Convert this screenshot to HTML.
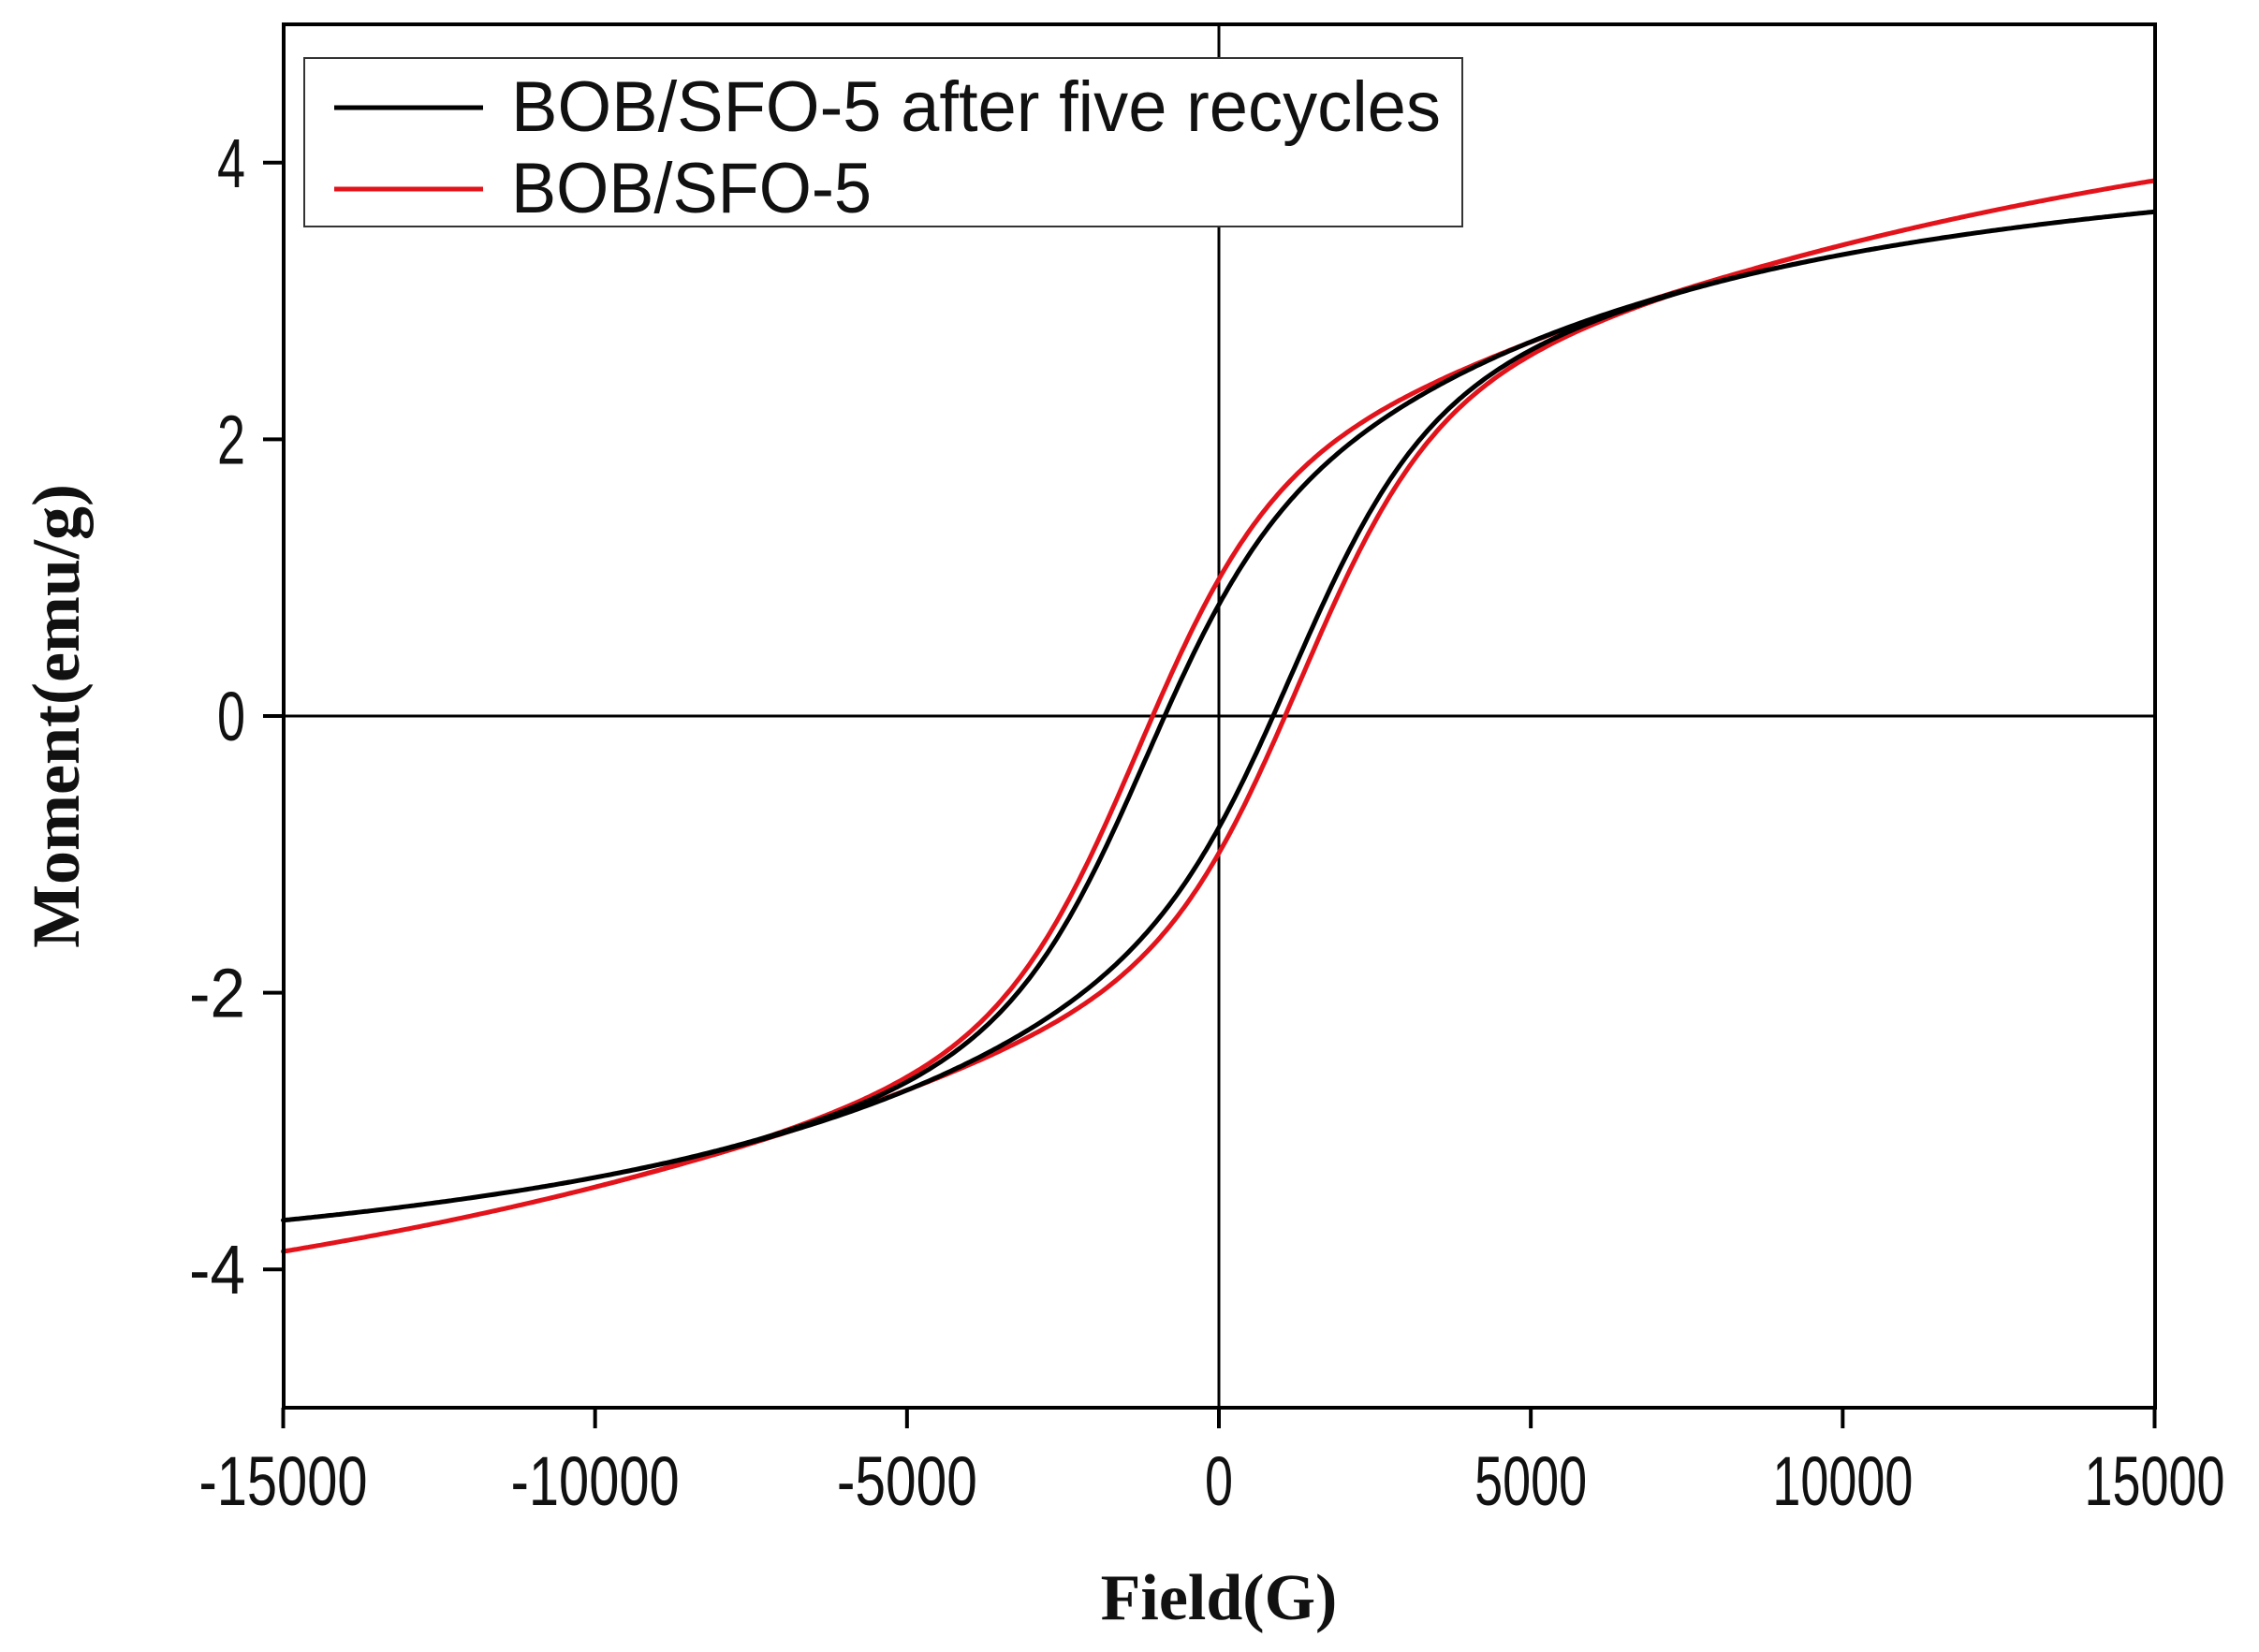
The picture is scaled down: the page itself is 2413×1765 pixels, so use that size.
<!DOCTYPE html>
<html><head><meta charset="utf-8"><style>
html,body{margin:0;padding:0;background:#fff;}
svg{display:block;}
text{font-family:"Liberation Sans",Arial,sans-serif;fill:#111;}
.t{font-family:"Liberation Serif","Times New Roman",serif;font-weight:bold;}
</style></head><body>
<svg id="s" width="2413" height="1765" viewBox="0 0 2413 1765" xmlns="http://www.w3.org/2000/svg">
<rect width="2413" height="1765" fill="#fff"/>
<line x1="1302" y1="26" x2="1302" y2="1504" stroke="#000" stroke-width="3"/>
<line x1="303" y1="765" x2="2302" y2="765" stroke="#000" stroke-width="3"/>
<g id="curves"></g>
<rect x="303" y="26" width="1999" height="1478" fill="none" stroke="#000" stroke-width="4"/>
<g stroke="#000" stroke-width="4" id="ticks"></g>
<g font-size="74" id="labels"></g>
<rect x="325" y="62" width="1237" height="180" fill="#fff" stroke="#333" stroke-width="2"/>
<line x1="357" y1="115" x2="516" y2="115" stroke="#000" stroke-width="5"/>
<line x1="357" y1="202" x2="516" y2="202" stroke="#e3131b" stroke-width="5"/>
<text x="546" y="140" font-size="76" textLength="993" lengthAdjust="spacingAndGlyphs">BOB/SFO-5  after five recycles</text>
<text x="546" y="227" font-size="76" textLength="385" lengthAdjust="spacingAndGlyphs">BOB/SFO-5</text>
<text class="t" x="1302" y="1730" font-size="70" text-anchor="middle">Field(G)</text>
<text class="t" x="0" y="0" font-size="72" text-anchor="middle" transform="translate(84,765) rotate(-90)">Moment(emu/g)</text>
</svg>
<script>
var X0=1302,Y0=765,SX=1999/30000,SY=147.8;
function px(h){return X0+h*SX;} function py(m){return Y0-m*SY;}
var ticks=document.getElementById('ticks'),labels=document.getElementById('labels'),NS='http://www.w3.org/2000/svg';
function el(p,tag,a,txt){var e=document.createElementNS(NS,tag);for(var k in a)e.setAttribute(k,a[k]);if(txt!=null)e.textContent=txt;p.appendChild(e);return e;}
for(var h=-15000;h<=15000;h+=5000){var x=px(h);el(ticks,'line',{x1:x,y1:1504,x2:x,y2:1526});
 var s=String(h);el(labels,'text',{x:x,y:1608,'text-anchor':'middle',textLength:s.length*30,lengthAdjust:'spacingAndGlyphs'},s);}
for(var m=-4;m<=4;m+=2){var y=py(m);el(ticks,'line',{x1:281,y1:y,x2:303,y2:y});
 var s=String(m);el(labels,'text',{x:262,y:y+26,'text-anchor':'end',textLength:s.length*30,lengthAdjust:'spacingAndGlyphs'},s);}
function model(p,h,sgn){return p.a*(2/Math.PI)*Math.atan(h/p.b)+p.R*Math.tanh((h+sgn*p.hc)/p.w);}
function loop(p,col){var d='';
 for(var h=15000;h>=-15000;h-=50){d+=(d?'L':'M')+px(h).toFixed(1)+','+py(model(p,h,1)).toFixed(1);}
 for(var h=-15000;h<=15000;h+=50){d+='L'+px(h).toFixed(1)+','+py(model(p,h,-1)).toFixed(1);}
 el(document.getElementById('curves'),'path',{d:d,fill:'none',stroke:col,'stroke-width':5,'stroke-linejoin':'round'});}
loop({a:3.63,b:12000,R:1.8,hc:1300,w:2100},'#e3131b');
loop({a:2.9,b:6500,R:1.5,hc:1200,w:2000},'#000');
</script>
</body></html>
